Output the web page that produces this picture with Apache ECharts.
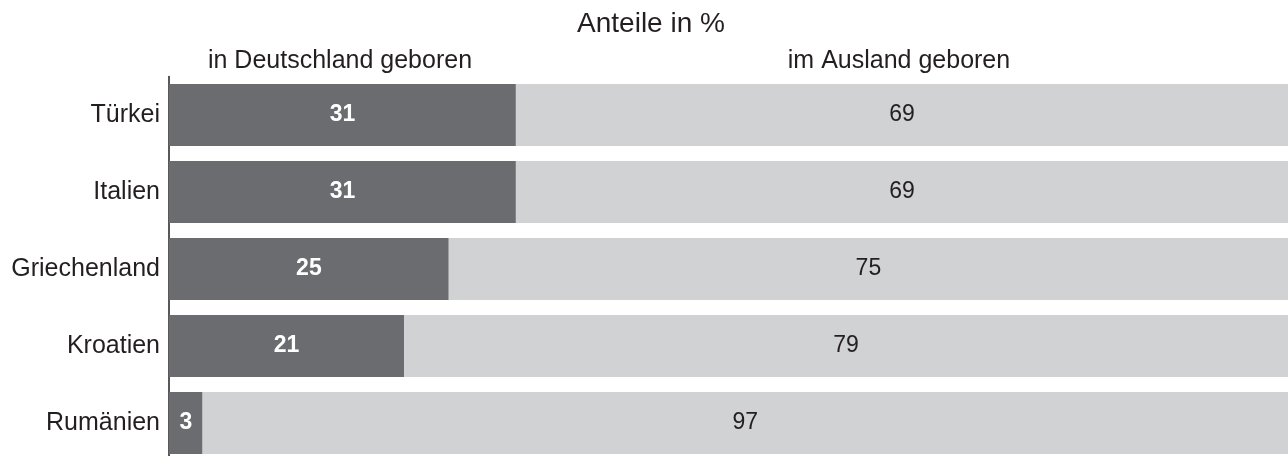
<!DOCTYPE html>
<html><head><meta charset="utf-8">
<script src="https://cdn.jsdelivr.net/npm/echarts@6/dist/echarts.min.js"></script>
<style>html,body{margin:0;padding:0;background:#fff}#c{width:1288px;height:456px}</style>
</head><body><div id="c"></div>
<script>
const categories = ['Türkei', 'Italien', 'Griechenland', 'Kroatien', 'Rumänien'];
const inDeutschland = [31, 31, 25, 21, 3];
const imAusland = [69, 69, 75, 79, 97];
const seriesNames = ['in Deutschland geboren', 'im Ausland geboren'];
const titleText = 'Anteile in %';

const FONT = '"Liberation Sans", Arial, sans-serif';
const INK = '#231f20';
const chart = echarts.init(document.getElementById('c'));
chart.setOption({
  animation: false,
  graphic: [
    { type: 'text', x: 651, y: 24.5, style: { text: titleText, font: '28px ' + FONT, fill: INK, textAlign: 'center', textVerticalAlign: 'middle' } },
    { type: 'text', x: 340, y: 61.5, style: { text: seriesNames[0], font: '25px ' + FONT, fill: INK, textAlign: 'center', textVerticalAlign: 'middle' } },
    { type: 'text', x: 899, y: 61.5, style: { text: seriesNames[1], font: '25px ' + FONT, fill: INK, textAlign: 'center', textVerticalAlign: 'middle' } }
  ],
  grid: { left: 169, right: 0, top: 76.5, height: 385, outerBoundsMode: 'none', containLabel: false },
  xAxis: { type: 'value', min: 0, max: 100, show: false },
  yAxis: {
    type: 'category', data: categories, inverse: true,
    axisLine: { show: true, lineStyle: { color: INK, width: 1.5 } },
    axisTick: { show: false },
    axisLabel: { fontFamily: FONT, fontSize: 25, color: INK, margin: 9 }
  },
  series: [
    {
      name: seriesNames[0], type: 'bar', stack: 'a', data: inDeutschland, barWidth: 62,
      itemStyle: { color: '#6b6c70' },
      label: { show: true, position: 'inside', fontFamily: FONT, fontSize: 23, fontWeight: 'bold', color: '#ffffff' }
    },
    {
      name: seriesNames[1], type: 'bar', stack: 'a', data: imAusland, barWidth: 62,
      itemStyle: { color: '#d1d2d4' },
      label: { show: true, position: 'inside', fontFamily: FONT, fontSize: 23, color: INK }
    }
  ]
});
</script></body></html>
